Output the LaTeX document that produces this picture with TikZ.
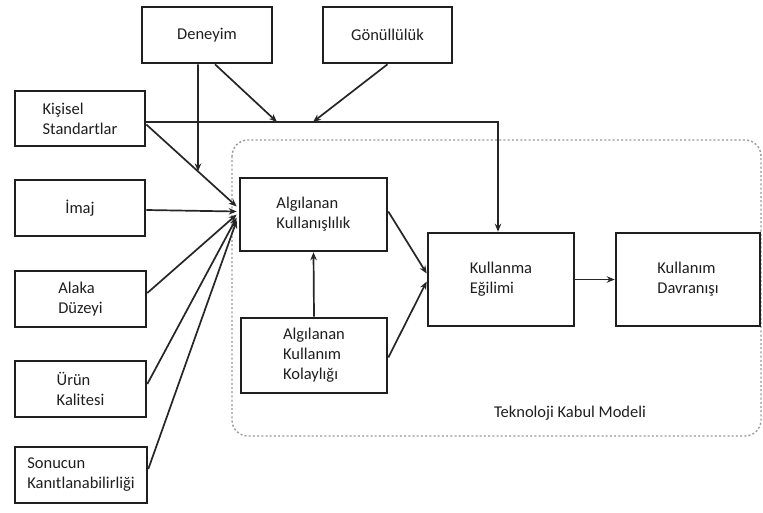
\documentclass[tikz,border=0pt]{standalone}
\usepackage{fontspec}
\setmainfont{Carlito}
\usetikzlibrary{arrows.meta,calc}
\begin{document}
\begin{tikzpicture}[x=1pt,y=-1pt,
  box/.style={draw=black!88,line width=2.6pt,fill=white,align=left,
    font=\fontsize{16.5}{20}\selectfont,text=black!88,inner sep=0pt},
  arr/.style={draw=black!85,line width=1.7pt,-{Stealth[length=8pt,width=6.5pt]}},
  frame/.style={draw=black!40,line width=1.4pt,dash pattern=on 2pt off 2.2pt,rounded corners=16pt}]
\useasboundingbox (0,0) rectangle (763,512);
\fill[white] (0,0) rectangle (763,512);

% model frame
\draw[frame] (232,140) rectangle (761,436);
\node[font=\fontsize{16.5}{20}\selectfont,text=black!88] (tkm) at (570,413) {Teknoloji Kabul Modeli};

% external factors
\node[box,minimum width=130pt,minimum height=56pt] (den) at (207,35) {Deneyim};
\node[box,minimum width=129pt,minimum height=56pt] (gon) at (387.5,35) {Gönüllülük};
\node[box,minimum width=130pt,minimum height=55pt] (kis) at (80,118.5) {Kişisel\\Standartlar};
\node[box,minimum width=130pt,minimum height=56pt] (imaj) at (80,208) {İmaj};
\node[box,minimum width=131pt,minimum height=56pt] (ala) at (80.5,299) {Alaka\\Düzeyi};
\node[box,minimum width=131pt,minimum height=56pt] (uru) at (80.5,389) {Ürün\\Kalitesi};
\node[box,minimum width=132pt,minimum height=56pt] (son) at (81,475) {Sonucun\\Kanıtlanabilirliği};

% model constructs
\node[box,minimum width=147pt,minimum height=73pt] (ak) at (313.5,214.5) {Algılanan\\Kullanışlılık};
\node[box,minimum width=146pt,minimum height=75pt] (akk) at (314,355.5) {Algılanan\\Kullanım\\Kolaylığı};
\node[box,minimum width=146pt,minimum height=93pt] (ke) at (501,279.5) {Kullanma\\Eğilimi};
\node[box,minimum width=144pt,minimum height=93pt] (kd) at (688,279.5) {Kullanım\\Davranışı};

% moderator line from Kişisel Standartlar to Kullanma Eğilimi
\coordinate (bend) at (498,122);
\coordinate (jd) at (277,122);
\coordinate (jg) at (313,122);
\draw[arr] (kis.east |- bend) -- (bend) -- (ke.north -| bend);
\draw[arr] ($(den.south)+(8,0)$) -- (jd);
\draw[arr] (gon.south) -- (jg);

% inputs to Algılanan Kullanışlılık
\coordinate (ks) at ($(kis.east)+(0,6)$);
\coordinate (kt) at ($(ak.west)+(-2,-8)$);
\coordinate (dv) at ($(den.south)+(-9,0)$);
\draw[arr] (ks) -- (kt);
\draw[arr] (dv) -- (intersection of dv--{$(dv)+(0,100)$} and ks--kt);
\draw[arr] ($(imaj.east)+(0,2)$) -- ($(ak.west)+(-2,-3)$);
\draw[arr] ($(ala.east)+(0,-6)$) -- ($(ak.west)+(-2,0)$);
\draw[arr] ($(uru.east)+(0,-5)$) -- ($(ak.west)+(-2,3)$);
\draw[arr] ($(son.east)+(0,-6)$) -- ($(ak.west)+(-2,6)$);
\draw[arr] (akk.north) -- (ak.south);

% TAM core paths
\draw[arr] ($(ak.east)+(0,-3)$) -- ($(ke.west)+(0,-6)$);
\draw[arr] ($(akk.east)+(0,2)$) -- ($(ke.west)+(0,2)$);
\draw[arr] (ke.east) -- (kd.west);
\end{tikzpicture}
\end{document}
